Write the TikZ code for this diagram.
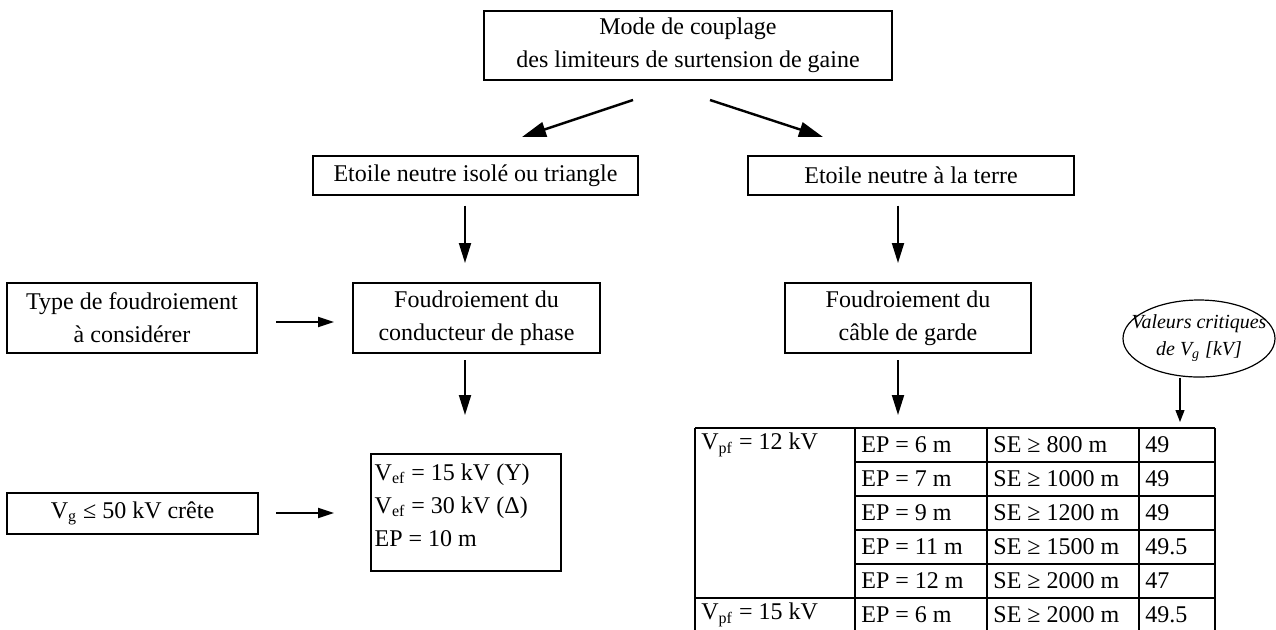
\documentclass[tikz,border=0pt]{standalone}
\usepackage{fontspec}
\setmainfont{Liberation Serif}
\usetikzlibrary{arrows.meta,shapes.geometric,calc}
\begin{document}
\begin{tikzpicture}[x=0.5pt,y=-0.5pt,
  every node/.style={font=\fontsize{12pt}{16.5pt}\selectfont},
  box/.style={draw, line width=0.7pt, inner sep=0pt, align=center},
  tab/.style={line width=0.9pt},
  cell/.style={anchor=west, inner sep=0pt},
  diagarrow/.style={line width=1.2pt, -{Triangle[length=12pt,width=7.5pt]}},
  vertarrow/.style={line width=1pt, -{Triangle[length=10pt,width=6pt]}},
  horarrow/.style={line width=1pt, -{Triangle[length=8pt,width=5pt]}},
  thinarrow/.style={line width=0.6pt, -{Triangle[length=6pt,width=4.5pt]}}]
\useasboundingbox (0,0) rectangle (1276,629);
\fill[white] (0,0) rectangle (1276,629);

% boxes
\node[box, minimum width=204pt, minimum height=34.5pt] (top) at (688,45.5)
  {Mode de couplage\\des limiteurs de surtension de gaine};
\node[box, minimum width=162.5pt, minimum height=19.5pt] (eL) at (475.5,175.5)
  {Etoile neutre isolé ou triangle};
\node[box, minimum width=163pt, minimum height=19.5pt] (eR) at (911,175.5)
  {Etoile neutre à la terre};
\node[box, minimum width=125pt, minimum height=35pt] (type) at (132,318)
  {Type de foudroiement\\à considérer};
\node[box, minimum width=123.5pt, minimum height=35pt] (fL) at (476.5,318)
  {Foudroiement du\\conducteur de phase};
\node[box, minimum width=123pt, minimum height=35pt] (fR) at (908,318)
  {Foudroiement du\\câble de garde};
\node[box, minimum width=125.5pt, minimum height=20.5pt] (vg) at (132.5,513.5)
  {V\textsubscript{g} ≤ 50 kV crête};
\node[box, minimum width=95pt, minimum height=58.5pt] (vef) at (466,512.5) {};
\node[anchor=west, align=left, inner sep=0pt] (veftext) at ($(vef.west)+(4,-7.5)$)
  {V\textsubscript{ef} = 15 kV (Y)\\V\textsubscript{ef} = 30 kV (Δ)\\EP = 10 m};
\node[draw, ellipse, line width=0.6pt, inner sep=-8pt, minimum width=76pt, minimum height=38.5pt,
  align=center, font=\fontsize{10pt}{13.5pt}\selectfont\itshape] (crit) at (1199,338.5)
  {Valeurs critiques\\de V\textsubscript{g} [kV]};

% table grid
\foreach \x in {695,855,987,1139,1215} \draw[tab] (\x,428) -- (\x,640);
\draw[tab] (695,428) -- (1215,428);
\draw[tab] (695,598) -- (1215,598);
\foreach \y in {462,496,530,564} \draw[tab] (855,\y) -- (1215,\y);

% table text
\node[cell] (c11) at (701,445) {V\textsubscript{pf} = 12 kV};
\node[cell] (c61) at (701,615) {V\textsubscript{pf} = 15 kV};
\node[cell] (c12) at (861,445) {EP = 6 m};
\node[cell] (c22) at (861,479) {EP = 7 m};
\node[cell] (c32) at (861,513) {EP = 9 m};
\node[cell] (c42) at (861,547) {EP = 11 m};
\node[cell] (c52) at (861,581) {EP = 12 m};
\node[cell] (c62) at (861,615) {EP = 6 m};
\node[cell] (c13) at (993,445) {SE ≥ 800 m};
\node[cell] (c23) at (993,479) {SE ≥ 1000 m};
\node[cell] (c33) at (993,513) {SE ≥ 1200 m};
\node[cell] (c43) at (993,547) {SE ≥ 1500 m};
\node[cell] (c53) at (993,581) {SE ≥ 2000 m};
\node[cell] (c63) at (993,615) {SE ≥ 2000 m};
\node[cell] (c14) at (1145,445) {49};
\node[cell] (c24) at (1145,479) {49};
\node[cell] (c34) at (1145,513) {49};
\node[cell] (c44) at (1145,547) {49.5};
\node[cell] (c54) at (1145,581) {47};
\node[cell] (c64) at (1145,615) {49.5};
\coordinate (tabtop) at (898,428);
\coordinate (tabcol4) at (1180,428);

% arrows
\coordinate (a1s) at (633,100); \coordinate (a1e) at (522,137);
\coordinate (a2s) at (710,100); \coordinate (a2e) at (823,137);
\draw[diagarrow] (a1s) -- (a1e);
\draw[diagarrow] (a2s) -- (a2e);
\draw[vertarrow] (eL.south -| 465,0) ++(0,10) -- (465,263);
\draw[vertarrow] (eR.south -| 898,0) ++(0,10) -- (898,263);
\draw[vertarrow] (465,360) -- (465,415);
\draw[vertarrow] (898,360) -- ($(tabtop)+(0,-13)$);
\draw[horarrow] (276,322) -- (334,322);
\draw[horarrow] (276,513) -- (334,513);
\draw[thinarrow] (crit.south -| tabcol4) -- ($(tabcol4)+(0,-6)$);
\end{tikzpicture}
\end{document}
